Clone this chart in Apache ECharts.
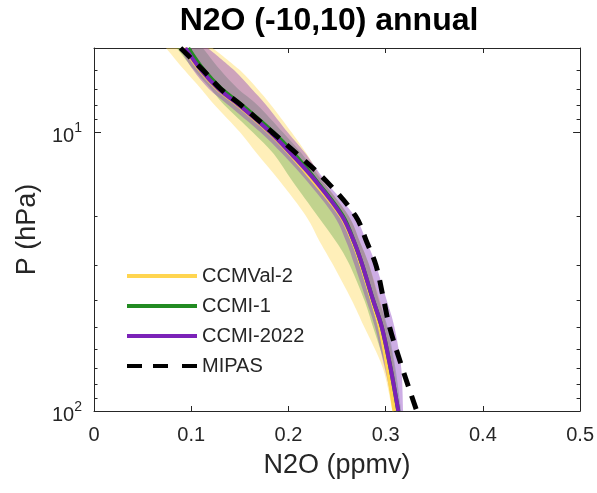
<!DOCTYPE html>
<html>
<head>
<meta charset="utf-8">
<script src="https://cdn.jsdelivr.net/npm/echarts@6/dist/echarts.min.js"></script>
<style>
  html, body { margin: 0; padding: 0; background: #fff; }
  #chart { width: 597px; height: 493px; }
</style>
</head>
<body>
<div id="chart"></div>
<script>
// Pressure levels (hPa) shared by every profile
const pressure = [5, 6, 7, 8, 10, 12, 15, 20, 25, 30, 40, 50, 70, 100];

// N2O (ppmv): multi-model means and spread envelopes
const ccmval2Mean  = [0.093, 0.109, 0.127, 0.148, 0.180, 0.202, 0.226, 0.254, 0.267, 0.275, 0.286, 0.294, 0.302, 0.309];
const ccmval2Low   = [0.074, 0.093, 0.110, 0.124, 0.150, 0.168, 0.191, 0.218, 0.233, 0.246, 0.265, 0.278, 0.297, 0.307];
const ccmval2High  = [0.122, 0.150, 0.168, 0.182, 0.203, 0.219, 0.236, 0.262, 0.274, 0.283, 0.294, 0.301, 0.309, 0.313];

const ccmi1Mean    = [0.097, 0.113, 0.131, 0.152, 0.184, 0.206, 0.229, 0.256, 0.268, 0.276, 0.287, 0.296, 0.305, 0.313];
const ccmi1Low     = [0.085, 0.103, 0.120, 0.134, 0.163, 0.185, 0.204, 0.230, 0.250, 0.263, 0.278, 0.287, 0.300, 0.308];
const ccmi1High    = [0.112, 0.130, 0.148, 0.168, 0.194, 0.214, 0.235, 0.262, 0.274, 0.283, 0.293, 0.302, 0.310, 0.316];

const ccmi2022Mean = [0.094, 0.110, 0.128, 0.149, 0.181, 0.203, 0.228, 0.255, 0.268, 0.276, 0.287, 0.296, 0.305, 0.313];
const ccmi2022Low  = [0.088, 0.102, 0.118, 0.138, 0.171, 0.194, 0.219, 0.247, 0.260, 0.268, 0.280, 0.289, 0.299, 0.309];
const ccmi2022High = [0.117, 0.144, 0.162, 0.177, 0.199, 0.218, 0.238, 0.268, 0.281, 0.290, 0.301, 0.309, 0.316, 0.318];

const mipas        = [0.089, 0.112, 0.130, 0.151, 0.183, 0.209, 0.239, 0.269, 0.281, 0.290, 0.298, 0.304, 0.317, 0.332];

// Axis tick positions
const yMajor = [10, 100];
const yMinor = [6, 7, 8, 9, 20, 30, 40, 50, 60, 70, 80, 90];

const FONT = '"Liberation Sans", Arial, Helvetica, sans-serif';
const INK = '#262626';

function pairs(xs) { return xs.map((x, i) => [x, pressure[i]]); }

// Smooth SVG path segment through screen points (Catmull-Rom as cubic Beziers)
function smoothSegment(pts, k, moveFirst) {
  let d = (moveFirst ? 'M' : 'L') + pts[0][0] + ',' + pts[0][1];
  for (let i = 0; i < pts.length - 1; i++) {
    const p0 = pts[Math.max(i - 1, 0)], p1 = pts[i], p2 = pts[i + 1], p3 = pts[Math.min(i + 2, pts.length - 1)];
    const c1 = [p1[0] + (p2[0] - p0[0]) * k, p1[1] + (p2[1] - p0[1]) * k];
    const c2 = [p2[0] - (p3[0] - p1[0]) * k, p2[1] - (p3[1] - p1[1]) * k];
    d += 'C' + c1[0] + ',' + c1[1] + ' ' + c2[0] + ',' + c2[1] + ' ' + p2[0] + ',' + p2[1];
  }
  return d;
}

// Filled envelope between a low and high profile
function bandSeries(name, low, high, fill) {
  return {
    type: 'custom',
    name: name,
    xAxisIndex: 0, yAxisIndex: 0,
    silent: true,
    data: [0],
    renderItem: function (params, api) {
      const hi = pressure.map((p, i) => api.coord([high[i], p]));
      const lo = pressure.map((p, i) => api.coord([low[i], p])).reverse();
      const d = smoothSegment(hi, 0.16, true) + smoothSegment(lo, 0.16, false) + 'Z';
      return { type: 'path', shape: { pathData: d }, style: { fill: fill } };
    },
    z: 1
  };
}

function lineSeries(name, xs, color, width, dashed) {
  return {
    type: 'line',
    name: name,
    xAxisIndex: 0, yAxisIndex: 0,
    data: pairs(xs),
    showSymbol: false,
    symbol: 'none',
    smooth: 0.35,
    lineStyle: { color: color, width: width, type: dashed ? [14, 10] : 'solid', cap: 'butt' },
    itemStyle: { color: color },
    z: 3
  };
}

const chart = echarts.init(document.getElementById('chart'), null, { renderer: 'canvas' });

const yBase = { type: 'log', logBase: 10, min: 5, max: 100, inverse: true, splitLine: { show: false } };
const dashIcon = 'path://M0,0H15V4H0Z M26,0H41V4H26Z M55,0H70V4H55Z';

chart.setOption({
  animation: false,
  backgroundColor: '#ffffff',
  textStyle: { fontFamily: FONT, color: INK },
  grid: { left: 94, top: 48, width: 487, height: 363, containLabel: false },
  graphic: [{
    type: 'text',
    x: 329, y: 21,
    style: {
      text: 'N2O (-10,10) annual',
      font: 'bold 32px ' + FONT,
      fill: '#000',
      align: 'center', verticalAlign: 'middle'
    }
  }],
  legend: {
    data: [
      { name: 'CCMVal-2', icon: 'rect' },
      { name: 'CCMI-1', icon: 'rect' },
      { name: 'CCMI-2022', icon: 'rect' },
      { name: 'MIPAS', icon: dashIcon, symbolKeepAspect: false }
    ],
    orient: 'vertical',
    left: 127, top: 266,
    padding: 0,
    itemWidth: 70, itemHeight: 4,
    itemGap: 10,
    textStyle: { fontSize: 20, fontFamily: FONT, color: INK },
    selectedMode: false
  },
  xAxis: [{
    type: 'value', position: 'bottom', min: 0, max: 0.5, interval: 0.1,
    name: 'N2O (ppmv)', nameLocation: 'middle', nameGap: 41,
    nameTextStyle: { fontSize: 27, fontFamily: FONT, color: INK },
    axisLine: { show: true, lineStyle: { color: INK, width: 1 } },
    axisTick: { show: true, inside: true, length: 5, lineStyle: { color: INK } },
    axisLabel: { fontSize: 20, color: INK, margin: 14, fontFamily: FONT,
      formatter: v => (Math.round(v * 10) / 10).toString() },
    splitLine: { show: false }
  }, {
    type: 'value', position: 'top', min: 0, max: 0.5, interval: 0.1,
    axisLine: { show: true, lineStyle: { color: INK, width: 1 } },
    axisTick: { show: true, inside: true, length: 5, lineStyle: { color: INK } },
    axisLabel: { show: false },
    splitLine: { show: false }
  }],
  yAxis: [
    Object.assign({}, yBase, {
      position: 'left',
      name: 'P (hPa)', nameLocation: 'middle', nameGap: 42, nameRotate: 90,
      nameTextStyle: { fontSize: 27, fontFamily: FONT, color: INK },
      axisLine: { show: true, lineStyle: { color: INK, width: 1 } },
      axisTick: { show: true, inside: true, length: 7, customValues: yMajor, lineStyle: { color: INK } },
      axisLabel: {
        customValues: yMajor, margin: 12, fontSize: 20, color: INK, fontFamily: FONT,
        formatter: v => '{b|10}{s|' + Math.round(Math.log10(v)) + '}',
        rich: {
          b: { fontSize: 20, fontFamily: FONT, color: INK, padding: [8, 0, 0, 0] },
          s: { fontSize: 14, fontFamily: FONT, color: INK, padding: [0, 0, 8, 0] }
        }
      }
    }),
    Object.assign({}, yBase, {
      position: 'left',
      axisLine: { show: false },
      axisTick: { show: true, inside: true, length: 3.5, customValues: yMinor, lineStyle: { color: INK } },
      axisLabel: { show: false }
    }),
    Object.assign({}, yBase, {
      position: 'right',
      axisLine: { show: true, lineStyle: { color: INK, width: 1 } },
      axisTick: { show: true, inside: true, length: 7, customValues: yMajor, lineStyle: { color: INK } },
      axisLabel: { show: false }
    }),
    Object.assign({}, yBase, {
      position: 'right',
      axisLine: { show: false },
      axisTick: { show: true, inside: true, length: 3.5, customValues: yMinor, lineStyle: { color: INK } },
      axisLabel: { show: false }
    })
  ],
  series: [
    bandSeries('CCMVal-2 range', ccmval2Low, ccmval2High, 'rgba(255, 214, 80, 0.40)'),
    bandSeries('CCMI-1 range', ccmi1Low, ccmi1High, 'rgba(34, 139, 34, 0.28)'),
    bandSeries('CCMI-2022 range', ccmi2022Low, ccmi2022High, 'rgba(130, 50, 190, 0.40)'),
    lineSeries('CCMVal-2', ccmval2Mean, '#ffd550', 4, false),
    lineSeries('CCMI-1', ccmi1Mean, '#228b22', 4, false),
    lineSeries('CCMI-2022', ccmi2022Mean, '#7b22b8', 4, false),
    lineSeries('MIPAS', mipas, '#000000', 5, true)
  ]
});
</script>
</body>
</html>
